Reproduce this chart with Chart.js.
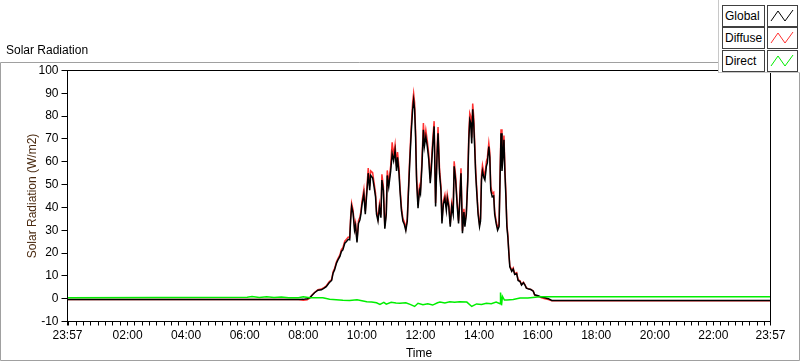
<!DOCTYPE html>
<html>
<head>
<meta charset="utf-8">
<script src="https://cdn.jsdelivr.net/npm/chart.js@4.4.1/dist/chart.umd.min.js"></script>
<style>
  body { margin: 0; background: #fff; }
  #wrap { position: relative; width: 800px; height: 361px; font-family: 'Liberation Sans', Arial, sans-serif; font-size: 12px; color: #000; }
  #title { position: absolute; left: 6px; top: 43px; }
  #legend { position: absolute; left: 718px; top: 0; width: 82px; height: 73px; border-left: 1px solid #c8c8c8; border-bottom: 1px solid #c8c8c8; background: #fff; box-sizing: border-box; }
  .lbl { position: absolute; left: 3px; width: 43px; height: 22px; border: 1px solid #404040; box-sizing: border-box; line-height: 20px; padding-left: 2px; background: #fff; }
  .sw { position: absolute; left: 48px; width: 31px; height: 22px; border: 1px solid #404040; box-sizing: border-box; background: #fff; }
  .sw svg { display: block; }
</style>
</head>
<body>
<div id="wrap">
  <canvas id="solarChart" width="800" height="361"></canvas>
  <div id="title">Solar Radiation</div>
  <div id="legend"></div>
</div>
<script>
// --- данные (минуты от полуночи, 23:57 предыдущих суток = -3) ---
const timeMin = [
  -3, 470, 480, 488, 493, 498, 503, 510, 517, 522,
  527, 533, 538, 541, 544, 548, 551, 555, 558, 561,
  565, 568, 572, 575, 577, 579, 582, 585, 587, 590,
  593, 596, 598, 600, 604, 607, 610, 613, 616, 618,
  622, 625, 628, 630, 633, 636, 639, 641, 644, 647,
  650, 652, 655, 659, 662, 665, 668, 671, 673, 676,
  678, 681, 684, 687, 690, 693, 695, 698, 701, 704,
  706, 708, 710, 712, 715, 718, 720, 723, 726, 728,
  731, 734, 737, 740, 742, 745, 748, 751, 754, 756,
  759, 762, 764, 767, 770, 773, 775, 778, 781, 784,
  787, 789, 792, 795, 798, 800, 803, 806, 809, 811,
  814, 817, 819, 821, 823, 825, 827, 829, 831, 833,
  835, 838, 841, 843, 845, 847, 850, 852, 855, 857,
  860, 862, 864, 867, 870, 872, 875, 878, 881, 883,
  885, 887, 889, 891, 893, 895, 897, 899, 901, 903,
  907, 910, 913, 917, 920, 924, 927, 931, 934, 937,
  942, 946, 951, 954, 961, 968, 975, 982, 989, 1437
];
const globalVals = [
  -0.4, -0.4, -0.3, 0.0, 0.4, 1.5, 2.6, 3.7, 3.9, 4.5,
  5.3, 7.0, 8.0, 11.2, 12.6, 15.6, 17.0, 18.5, 20.7, 21.4,
  24.3, 25.0, 26.0, 25.8, 34.6, 40.4, 37.5, 30.0, 32.0, 24.6,
  33.0, 34.6, 37.0, 40.9, 46.0, 37.0, 46.0, 55.0, 47.5, 54.0,
  53.0, 49.0, 44.6, 37.0, 34.0, 40.0, 35.5, 52.0, 47.5, 30.7,
  37.0, 54.0, 49.0, 56.0, 63.5, 60.5, 65.0, 56.0, 62.0, 55.0,
  47.5, 38.7, 34.0, 32.5, 29.8, 34.0, 44.6, 59.5, 72.5, 83.0,
  87.0, 83.0, 71.0, 52.0, 39.7, 47.5, 46.0, 58.0, 74.0, 66.7,
  71.0, 66.7, 61.0, 50.6, 56.0, 66.7, 75.5, 40.4, 63.0, 72.5,
  55.0, 47.5, 33.0, 41.5, 44.0, 38.7, 44.0, 40.4, 31.6, 40.4,
  37.0, 58.0, 52.0, 41.5, 33.0, 40.4, 55.0, 28.7, 38.0, 31.6,
  37.0, 52.0, 69.6, 78.4, 77.0, 68.0, 83.0, 77.0, 66.7, 55.0,
  47.5, 37.0, 31.6, 34.0, 52.0, 56.0, 53.0, 52.0, 58.0, 59.5,
  66.7, 62.0, 47.5, 44.6, 45.0, 37.0, 33.0, 30.0, 31.6, 52.0,
  72.5, 56.0, 62.0, 69.6, 55.0, 44.6, 31.6, 27.0, 20.0, 14.0,
  12.0, 13.0, 10.6, 11.0, 8.0, 7.5, 6.0, 7.0, 6.0, 4.6,
  4.2, 4.0, 3.3, 1.7, 1.3, 0.7, 0.4, 0.0, -0.8, -0.8
];
const diffuseVals = [
  -0.4, -0.4, -0.7, -0.5, 0.2, 1.6, 2.7, 3.9, 4.2, 4.8,
  5.6, 7.4, 8.4, 11.8, 13.2, 16.2, 17.6, 19.2, 21.5, 22.3,
  25.2, 26.0, 27.0, 26.8, 35.8, 41.8, 38.8, 31.0, 33.2, 25.5,
  34.2, 35.8, 38.3, 42.3, 47.8, 38.3, 47.8, 57.2, 49.3, 56.0,
  55.2, 50.8, 46.2, 38.3, 35.2, 41.5, 36.8, 54.5, 49.3, 31.8,
  38.3, 56.2, 50.8, 58.2, 68.5, 62.8, 67.5, 58.2, 64.3, 57.2,
  49.3, 40.1, 35.2, 33.6, 30.8, 35.2, 46.2, 61.8, 75.2, 86.0,
  90.0, 86.0, 73.6, 54.0, 41.1, 49.3, 47.7, 60.2, 77.0, 69.2,
  74.0, 69.2, 63.3, 52.5, 58.1, 69.2, 77.8, 41.9, 65.4, 75.2,
  57.1, 49.3, 34.2, 43.0, 45.6, 40.1, 45.6, 41.9, 32.7, 41.9,
  38.3, 60.2, 54.0, 43.0, 34.2, 41.9, 57.1, 29.7, 39.4, 32.7,
  38.3, 54.0, 72.2, 81.3, 79.9, 70.5, 85.5, 79.9, 69.2, 57.1,
  49.3, 38.3, 32.7, 35.2, 54.0, 58.5, 55.0, 54.0, 60.2, 61.7,
  68.2, 64.3, 49.3, 46.2, 46.7, 38.3, 34.2, 31.1, 32.7, 54.0,
  74.2, 58.1, 64.3, 71.5, 57.1, 46.2, 32.7, 28.0, 20.7, 14.5,
  12.4, 13.5, 11.0, 11.4, 8.3, 7.8, 6.2, 7.2, 6.2, 4.7,
  4.3, 4.1, 3.4, 1.5, 1.0, 0.4, 0.0, -0.4, -0.95, -0.95
];
const directTime = [
  -3, 365, 375, 390, 405, 420, 435, 450, 470, 480,
  493, 520, 534, 561, 575, 590, 600, 610, 620, 630,
  637, 645, 650, 660, 670, 678, 690, 700, 708, 715,
  725, 735, 745, 755, 760, 770, 780, 790, 800, 815,
  825, 835, 845, 855, 865, 875, 883, 884, 885, 886,
  888, 892, 897, 910, 924, 940, 965, 1437
];
const directVals = [
  0.4, 0.6, 0.9, 0.5, 0.8, 0.5, 0.7, 0.4, 0.4, 0.8,
  0.4, 0.4, -0.2, -0.7, -0.8, -0.5, -0.9, -1.3, -1.5, -1.8,
  -2.5, -1.6, -2.4, -1.6, -1.9, -2.0, -1.8, -2.6, -3.4, -2.0,
  -2.6, -2.2, -2.8, -1.8, -1.5, -1.9, -1.4, -1.6, -1.3, -1.5,
  -3.4, -2.3, -2.5, -2.0, -2.2, -1.5, -2.2, 2.7, -0.5, -2.9,
  1.0, -0.6, -0.6, -0.4, 0.3, 0.3, 0.8, 0.8
];

// метки оси X: 23:57 по краям и каждые 2 часа, мелкие деления через 15 минут
const xMin = -3, xMax = 1437;
const xTickValues = [xMin];
for (let m = 0; m < xMax; m += 15) xTickValues.push(m);
xTickValues.push(xMax);

const seriesNames = ['Global', 'Diffuse', 'Direct'];
const seriesColors = ['#000000', '#ff3030', '#00ee00'];

function zip(xs, ys) { return xs.map((x, i) => ({ x: x, y: ys[i] })); }

function fmtTime(v) {
    if (v === xMin || v === xMax) return '23:57';
    if (v > 0 && v % 120 === 0) {
        const h = v / 60;
        return (h < 10 ? '0' : '') + h + ':00';
    }
    return '';
}

// рамка панели и рамка области графика
const framePlugin = {
    id: 'frame',
    beforeDraw(chart) {
        const c = chart.ctx;
        c.save();
        c.strokeStyle = '#a0a0a0';
        c.lineWidth = 1;
        c.beginPath();
        c.moveTo(0.5, 360.5); c.lineTo(0.5, 62.5); c.lineTo(718, 62.5);
        c.moveTo(799.5, 73); c.lineTo(799.5, 360.5); c.lineTo(0.5, 360.5);
        c.stroke();
        c.restore();
    },
    afterDraw(chart) {
        const a = chart.chartArea, c = chart.ctx;
        c.save();
        c.strokeStyle = '#000';
        c.lineWidth = 1;
        c.strokeRect(a.left, a.top, a.right - a.left, a.bottom - a.top);
        c.restore();
    }
};

const ctx = document.getElementById('solarChart').getContext('2d');
new Chart(ctx, {
    type: 'line',
    data: {
        datasets: [
            { label: seriesNames[2], data: zip(directTime, directVals), borderColor: seriesColors[2], order: 1 },
            { label: seriesNames[0], data: zip(timeMin, globalVals), borderColor: seriesColors[0], order: 2 },
            { label: seriesNames[1], data: zip(timeMin, diffuseVals), borderColor: seriesColors[1], order: 3 }
        ]
    },
    options: {
        responsive: false, animation: false,
        layout: { padding: { left: 0, top: 70.5, right: 29.5, bottom: 0 } },
        elements: {
            line: { borderWidth: 1.5, tension: 0, fill: false },
            point: { radius: 0 }
        },
        scales: {
            x: {
                type: 'linear', min: xMin, max: xMax,
                afterBuildTicks(scale) { scale.ticks = xTickValues.map(v => ({ value: v })); },
                afterFit(scale) { scale.height = 39.5; },
                ticks: { autoSkip: false, maxRotation: 0, color: '#000', font: { family: 'Liberation Sans', size: 12 }, padding: 3, callback: fmtTime },
                grid: { drawOnChartArea: false, color: '#000', tickLength: 4 },
                border: { color: '#000' },
                title: { display: true, text: 'Time', color: '#000', font: { family: 'Liberation Sans', size: 12 }, padding: { top: 0, bottom: 0 } }
            },
            y: {
                min: -10, max: 100,
                afterFit(scale) { scale.width = 67.5; },
                ticks: { stepSize: 10, color: '#000', font: { family: 'Liberation Sans', size: 12 }, padding: 3 },
                grid: { drawOnChartArea: false, color: '#000', tickLength: 6 },
                border: { color: '#000' },
                title: { display: true, text: 'Solar Radiation (W/m2)', color: '#4a2a10', font: { family: 'Liberation Sans', size: 12 }, padding: { top: 25, bottom: 0 } }
            }
        },
        plugins: { legend: { display: false }, tooltip: { enabled: false } }
    },
    plugins: [framePlugin]
});

// --- легенда в стиле LabVIEW ---
const legendEl = document.getElementById('legend');
const itemTops = [5, 27, 50];
seriesNames.forEach((name, i) => {
    const lbl = document.createElement('div');
    lbl.className = 'lbl';
    lbl.style.top = itemTops[i] + 'px';
    lbl.textContent = name;
    legendEl.appendChild(lbl);
    const sw = document.createElement('div');
    sw.className = 'sw';
    sw.style.top = itemTops[i] + 'px';
    sw.innerHTML = '<svg width="29" height="20"><polyline points="3,15 10,5 17,15 25,4" fill="none" stroke="' +
        seriesColors[i] + '" stroke-width="1"/></svg>';
    legendEl.appendChild(sw);
});
</script>
</body>
</html>
